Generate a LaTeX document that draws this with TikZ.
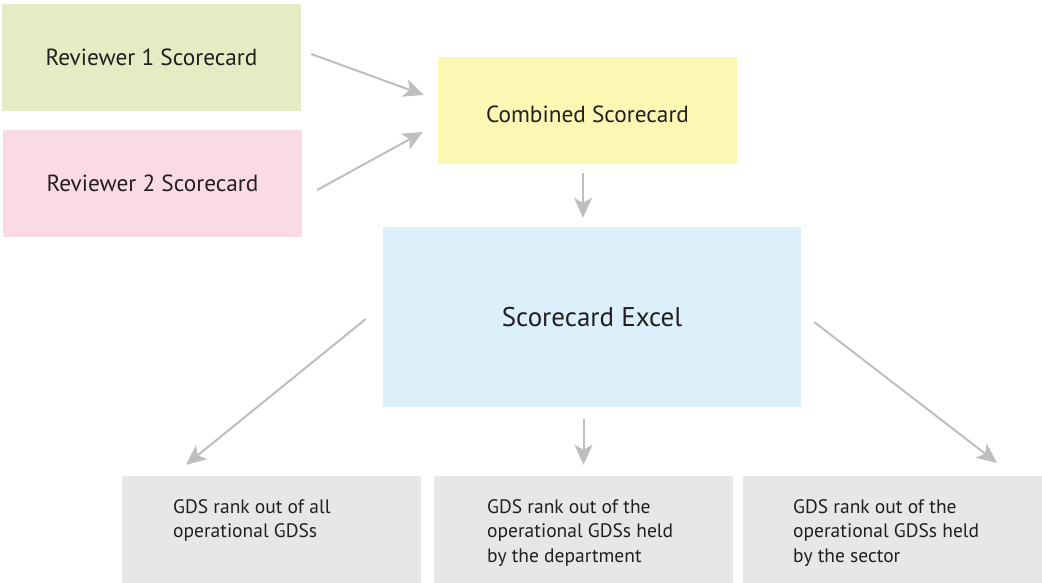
\documentclass[tikz,border=0pt]{standalone}
\usepackage{fontspec}
\setmainfont{PT Sans}
\usetikzlibrary{arrows.meta,calc}
\definecolor{revgreen}{HTML}{E3ECC3}
\definecolor{revpink}{HTML}{FADBE3}
\definecolor{combyellow}{HTML}{FCF8B4}
\definecolor{excelblue}{HTML}{DBF0FB}
\definecolor{rankgray}{HTML}{E6E7E8}
\definecolor{arrowgray}{HTML}{BCBEC0}
\definecolor{inkdark}{HTML}{231F20}
\begin{document}
\begin{tikzpicture}[x=1pt,y=-1pt,
  card/.style={rectangle, inner sep=0pt, text=inkdark, minimum width=299pt, minimum height=107pt},
  cardtext/.style={font=\fontsize{23.3}{28}\selectfont},
  ranktext/.style={anchor=north west, align=left, text=inkdark, inner sep=0pt, font=\fontsize{19.5}{24.5}\selectfont},
  arr/.style={draw=arrowgray, line width=2pt, -{Stealth[length=20pt,width=18pt,inset=5pt]}}]
  \useasboundingbox (0,0) rectangle (1042,583);

  % source scorecards and merged scorecard
  \node[card, cardtext, fill=revgreen] (r1) at (151.5,57.5) {Reviewer 1 Scorecard};
  \node[card, cardtext, fill=revpink] (r2) at (152.5,183.5) {Reviewer 2 Scorecard};
  \node[card, cardtext, fill=combyellow] (comb) at (587.5,110.5)
    {\raisebox{-4pt}[\height][\depth]{Combined Scorecard}};

  % spreadsheet
  \node[card, fill=excelblue, minimum width=418pt, minimum height=180pt,
        font=\fontsize{27}{32}\selectfont] (excel) at (592,317) {Scorecard Excel};

  % rank outputs
  \node[card, fill=rankgray] (b1) at (271.5,529.5) {};
  \node[card, fill=rankgray] (b2) at (583.5,529.5) {};
  \node[card, fill=rankgray] (b3) at (892.5,529.5) {};
  \node[ranktext] (t1) at (173,499) {GDS rank out of all\\operational GDSs};
  \node[ranktext] (t2) at (487,499) {GDS rank out of the\\operational GDSs held\\by the department};
  \node[ranktext] (t3) at (793,499) {GDS rank out of the\\operational GDSs held\\by the sector};

  % flow arrows
  \draw[arr] ($(r1.east)+(10,-3.5)$) -- ($(comb.west)+(-14,-15.5)$);
  \draw[arr] ($(r2.east)+(15,6.5)$) -- ($(comb.west)+(-15,21.5)$);
  \draw[arr] ($(comb.south)+(-4.5,9)$) -- ($(excel.north)+(-9,-9)$);
  \draw[arr] ($(excel.west)+(-17,2)$) -- ($(b1.north)+(-85.5,-11)$);
  \draw[arr] ($(excel.south)+(-8.5,12)$) -- ($(b2.north)+(0,-11)$);
  \draw[arr] ($(excel.east)+(13,5)$) -- ($(b3.north)+(104.5,-13)$);
\end{tikzpicture}
\end{document}
